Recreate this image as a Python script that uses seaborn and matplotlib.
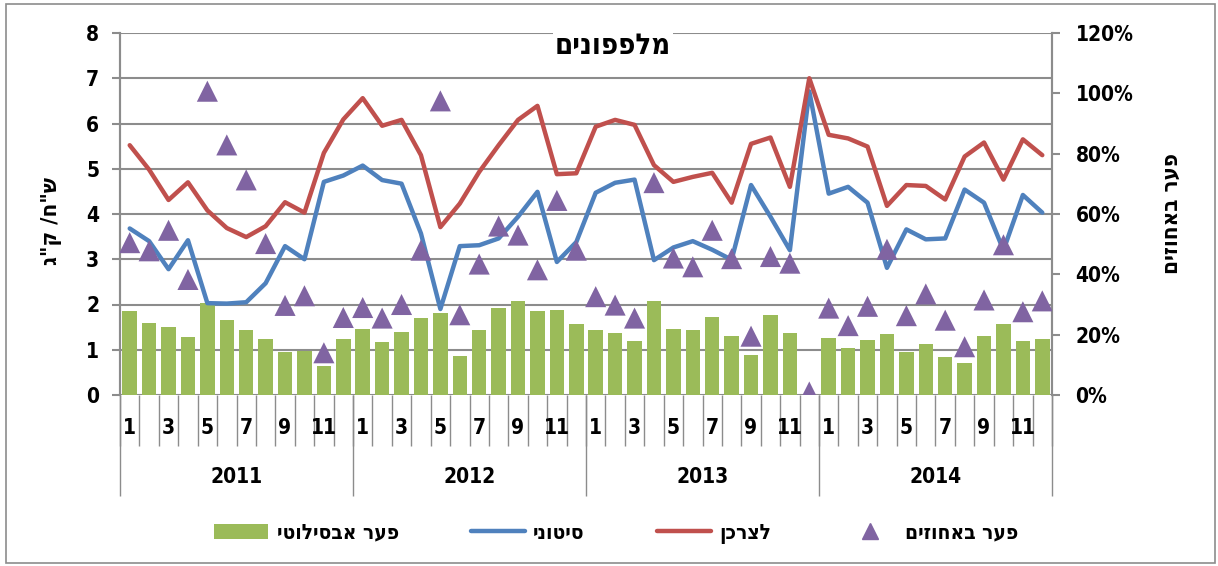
import matplotlib
matplotlib.use("Agg")
import matplotlib.pyplot as plt
import matplotlib.transforms as mtransforms
from matplotlib.lines import Line2D
from matplotlib.patches import Patch, Rectangle
import numpy as np
import pandas as pd
import seaborn as sns

# data: monthly prices, 2011-2014
years = ["2011", "2012", "2013", "2014"]
months = list(range(1, 13))

retail = [
    5.52, 4.98, 4.31, 4.70, 4.08, 3.69, 3.49, 3.73, 4.26, 4.03, 5.35, 6.09,
    6.56, 5.95, 6.08, 5.30, 3.71, 4.23, 4.93, 5.52, 6.08, 6.39, 4.88, 4.90,
    5.93, 6.08, 5.97, 5.08, 4.71, 4.82, 4.91, 4.25, 5.55, 5.69, 4.60, 7.00,
    5.75, 5.67, 5.49, 4.18, 4.64, 4.62, 4.32, 5.27, 5.58, 4.76, 5.65, 5.30,
]
wholesale = [
    3.68, 3.40, 2.78, 3.42, 2.03, 2.02, 2.05, 2.47, 3.29, 3.00, 4.71, 4.85,
    5.07, 4.75, 4.67, 3.57, 1.90, 3.29, 3.31, 3.46, 3.94, 4.49, 2.94, 3.38,
    4.47, 4.69, 4.76, 2.98, 3.26, 3.40, 3.21, 2.99, 4.64, 3.94, 3.20, 6.71,
    4.45, 4.60, 4.25, 2.81, 3.66, 3.44, 3.46, 4.54, 4.25, 3.20, 4.42, 4.03,
]
gap_abs = [
    1.85, 1.60, 1.50, 1.29, 2.03, 1.66, 1.44, 1.24, 0.96, 0.98, 0.64, 1.24,
    1.46, 1.18, 1.39, 1.70, 1.81, 0.86, 1.43, 1.93, 2.07, 1.86, 1.88, 1.57,
    1.44, 1.38, 1.20, 2.08, 1.45, 1.43, 1.72, 1.30, 0.89, 1.77, 1.38, 0.00,
    1.26, 1.04, 1.22, 1.34, 0.94, 1.13, 0.85, 0.71, 1.31, 1.56, 1.20, 1.24,
]
gap_pct = [
    50.5, 47.8, 54.6, 38.3, 100.7, 82.9, 71.3, 50.2, 29.7, 32.9, 14.0, 25.7,
    29.0, 25.5, 30.0, 48.0, 97.5, 26.6, 43.4, 56.0, 53.0, 41.5, 64.5, 48.0,
    32.6, 29.8, 25.5, 70.4, 45.4, 42.5, 54.6, 45.2, 19.5, 45.9, 43.7, 1.0,
    28.8, 23.0, 29.4, 48.3, 26.3, 33.5, 24.8, 16.0, 31.5, 49.8, 27.6, 31.2,
]

title = "מלפפונים"
left_label = 'ש"ח/ ק"ג'
right_label = "פער באחוזים"
names = ["פער אבסילוטי", "סיטוני", "לצרכן", "פער באחוזים"]


def rtl(s):
    # matplotlib has no bidi support, so flip hebrew strings by hand
    return s[::-1]


df = pd.DataFrame({
    "idx": np.arange(len(retail)),
    "retail": retail,
    "wholesale": wholesale,
    "gap_abs": gap_abs,
    "gap_pct": gap_pct,
})

GREEN, BLUE, RED, PURPLE = "#9BBB59", "#4F81BD", "#C0504D", "#8064A2"
GRID = "#8C8C8C"

sns.set_style("white")
plt.rcParams["font.family"] = ["DejaVu Sans"]
plt.rcParams["font.weight"] = "bold"
plt.rcParams["font.stretch"] = "condensed"
plt.rcParams["text.color"] = "black"
plt.rcParams["axes.labelcolor"] = "black"
plt.rcParams["ytick.labelcolor"] = "black"

fig = plt.figure(figsize=(12.18, 5.66), dpi=100)
ax = fig.add_axes([120 / 1218, 1 - 395 / 566, 932 / 1218, 362 / 566])

# bars, lines on the left axis
sns.barplot(data=df, x="idx", y="gap_abs", color=GREEN, width=0.75,
            saturation=1, edgecolor="none", ax=ax, zorder=2)
sns.lineplot(data=df, x="idx", y="wholesale", color=BLUE, linewidth=3.2,
             ax=ax, zorder=3)
sns.lineplot(data=df, x="idx", y="retail", color=RED, linewidth=3.2,
             ax=ax, zorder=3)

ax.set_xlim(-0.5, len(retail) - 0.5)
ax.set_ylim(0, 8)
ax.set_yticks(range(0, 9))
ax.yaxis.grid(True, color=GRID, linewidth=1.5, zorder=0)
ax.set_axisbelow(True)
ax.set_xlabel("")
ax.set_ylabel(rtl(left_label), fontsize=16, fontweight="bold")
ax.yaxis.set_label_coords(-0.062, 0.48)
ax.tick_params(axis="y", length=6, width=1.5, color=GRID, pad=9,
               labelsize=15)
ax.set_xticks([])
for side in ["top", "bottom"]:
    ax.spines[side].set_visible(False)
for side in ["left", "right"]:
    ax.spines[side].set_color(GRID)
    ax.spines[side].set_linewidth(1.5)

# percent gap on the right axis
ax2 = ax.twinx()
sns.scatterplot(data=df, x="idx", y="gap_pct", marker="^", color=PURPLE,
                s=230, edgecolor="none", ax=ax2, zorder=4)
ax2.set_ylim(0, 120)
ax2.set_yticks(range(0, 121, 20))
ax2.set_yticklabels([f"{v}%" for v in range(0, 121, 20)])
ax2.set_ylabel(rtl(right_label), fontsize=16, fontweight="bold", rotation=90)
ax2.yaxis.set_label_coords(1.118, 0.5)
ax2.tick_params(axis="y", length=6, width=1.5, color=GRID, pad=11,
                labelsize=15)
for side in ["top", "bottom"]:
    ax2.spines[side].set_visible(False)
for side in ["left", "right"]:
    ax2.spines[side].set_color(GRID)
    ax2.spines[side].set_linewidth(1.5)

# two level category axis: months, then years
trans = mtransforms.blended_transform_factory(ax.transData, ax.transAxes)
n = len(retail)
ax.vlines(np.arange(n + 1) - 0.5, -0.14, 0, transform=trans, color=GRID,
          linewidth=1, clip_on=False)
ax.vlines(np.arange(0, n + 1, 12) - 0.5, -0.28, 0, transform=trans,
          color=GRID, linewidth=1, clip_on=False)
for i in range(n):
    m = months[i % 12]
    if m % 2 == 1:
        ax.text(i, -0.09, str(m), transform=trans, ha="center", va="center",
                fontsize=15, fontweight="bold")
for k, yr in enumerate(years):
    ax.text(k * 12 + 5.5, -0.227, yr, transform=trans, ha="center",
            va="center", fontsize=15, fontweight="bold")

ax.text(0.529, 1.003, rtl(title), transform=ax.transAxes, ha="center",
        va="top", fontsize=21, fontweight="bold", zorder=5,
        bbox=dict(facecolor="white", edgecolor="none", pad=1))

handles = [
    Patch(facecolor=GREEN, edgecolor="none"),
    Line2D([], [], color=BLUE, linewidth=3.2),
    Line2D([], [], color=RED, linewidth=3.2),
    Line2D([], [], color=PURPLE, marker="^", linestyle="none", markersize=11),
]
fig.legend(handles, [rtl(t) for t in names], loc="center",
           bbox_to_anchor=(0.506, 0.058), ncol=4, frameon=False,
           prop={"size": 15, "weight": "bold"}, handlelength=2.6,
           columnspacing=3.45, handletextpad=0.4)

fig.patches.append(Rectangle((6 / 1218, 3 / 566), 1209 / 1218, 559 / 566,
                             transform=fig.transFigure, fill=False,
                             edgecolor="#8C8C8C", linewidth=1.2))

fig.savefig("out.png", dpi=100)
